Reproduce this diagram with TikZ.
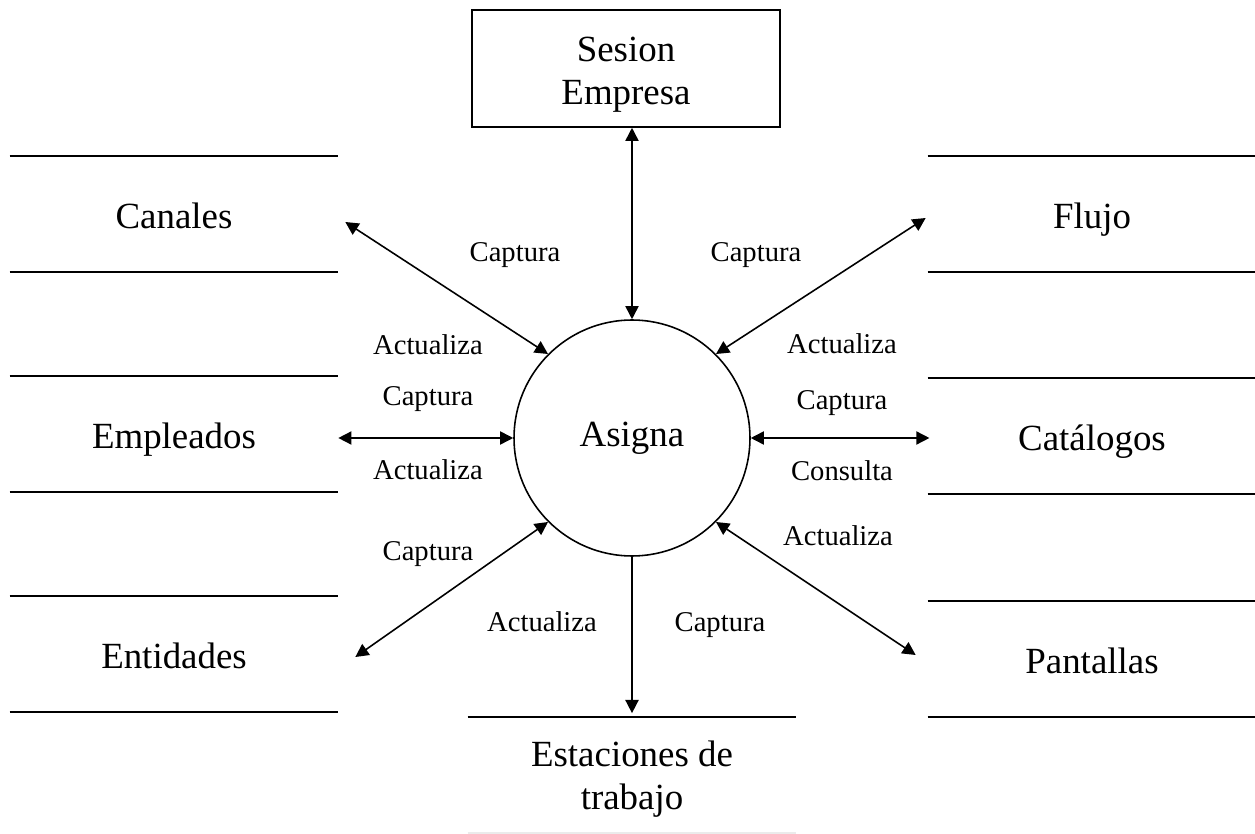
\documentclass[tikz,border=0pt]{standalone}
\usepackage{fontspec}
\setmainfont{Liberation Serif}
\usetikzlibrary{arrows.meta,positioning}
\newcommand{\grande}{\fontsize{21}{24.5}\selectfont}
\newcommand{\chica}{\fontsize{16.3}{19}\selectfont}
\tikzset{
  almacen/.style={minimum width=6.56cm, minimum height=2.32cm,
    inner sep=0pt, align=center, font=\grande,
    text height=16.5pt, text depth=0pt},
  almacen2/.style={almacen, text height=39.5pt},
  caja/.style={draw, line width=0.9pt, minimum width=6.16cm,
    minimum height=2.34cm, align=center, font=\grande,
    text height=40.5pt, text depth=0pt},
  proceso/.style={draw, circle, line width=0.9pt, minimum size=4.72cm,
    inner sep=0pt, font=\grande},
  linea/.style={line width=1pt},
  flecha/.style={{Triangle[length=7.5pt,width=7.5pt]}-{Triangle[length=7.5pt,width=7.5pt]},
    line width=0.9pt},
  sflecha/.style={-{Triangle[length=7.5pt,width=7.5pt]}, line width=0.9pt},
  etiqueta/.style={font=\chica, inner sep=1pt,
    text height=11.1pt, text depth=0pt},
}

\begin{document}
\begin{tikzpicture}[x=0.02cm, y=-0.02cm]
  \useasboundingbox (0,0) rectangle (1255,834);

  % Proceso central
  \node[proceso] (asigna) at (632,438) {Asigna};
  \node[caja] (sesion) at (626,68.5) {Sesion\\Empresa};

  % Almacenes
  \node[almacen] (canales) at (174,214) {Canales};
  \node[almacen] (empleados) at (174,434) {Empleados};
  \node[almacen] (entidades) at (174,654) {Entidades};
  \node[almacen] (flujo) at (1092,214) {Flujo};
  \node[almacen] (catalogos) at (1092,436) {Catálogos};
  \node[almacen] (pantallas) at (1092,659) {Pantallas};
  \node[almacen2] (estaciones) at (632,775) {Estaciones de\\trabajo};

  \foreach \n in {canales,empleados,entidades,flujo,catalogos,pantallas} {
    \draw[linea] (\n.north west) -- (\n.north east)
                 (\n.south west) -- (\n.south east);
  }
  \draw[linea] (estaciones.north west) -- (estaciones.north east);
  \draw[linea, black!8] (estaciones.south west) -- (estaciones.south east);

  % Flujos
  \draw[flecha] (asigna.north |- sesion.south) -- (asigna.north);
  \draw[flecha] ([shift={(7,8)}]canales.east) -- (asigna.135);
  \draw[flecha] ([shift={(-2,4)}]flujo.west) -- (asigna.45);
  \draw[flecha] (empleados.east |- asigna.west) -- (asigna.west);
  \draw[flecha] (asigna.east) -- ([xshift=1pt]asigna.east -| catalogos.west);
  \draw[flecha] ([shift={(17,3)}]entidades.east) -- (asigna.225);
  \draw[flecha] ([shift={(-12,-4)}]pantallas.west) -- (asigna.315);
  \draw[sflecha] (asigna.south) -- ([yshift=2pt]estaciones.north);

  % Etiquetas
  \node[etiqueta] (l1) at (515,252) {Captura};
  \node[etiqueta] (l2) at (756,252) {Captura};
  \node[etiqueta] (l3) at (428,345) {Actualiza};
  \node[etiqueta] (l4) at (428,396) {Captura};
  \node[etiqueta] (l5) at (428,470) {Actualiza};
  \node[etiqueta] (l6) at (428,551) {Captura};
  \node[etiqueta] (l7) at (542,622) {Actualiza};
  \node[etiqueta] (l8) at (720,622) {Captura};
  \node[etiqueta] (r1) at (842,344) {Actualiza};
  \node[etiqueta] (r2) at (842,400) {Captura};
  \node[etiqueta] (r3) at (842,471) {Consulta};
  \node[etiqueta] (r4) at (838,536) {Actualiza};
\end{tikzpicture}
\end{document}
